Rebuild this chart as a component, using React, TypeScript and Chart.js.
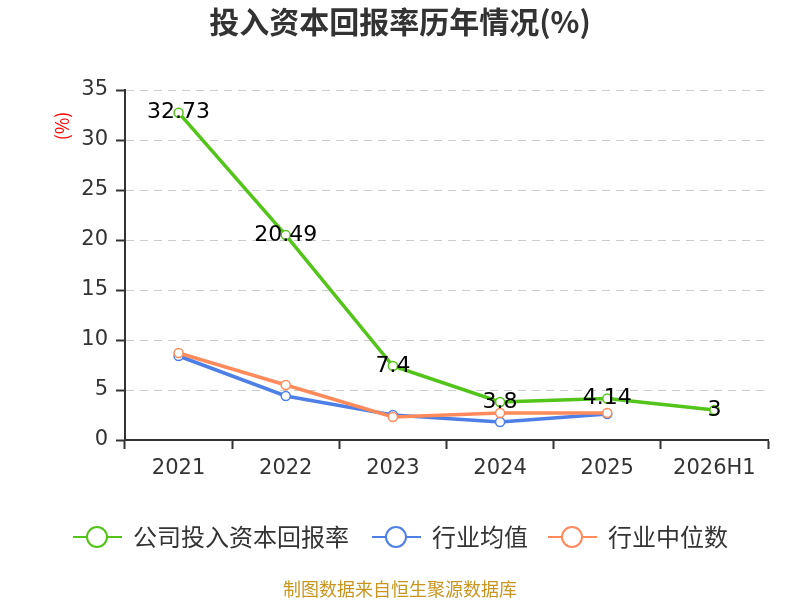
import { useEffect, useRef } from "react";
import { Chart, registerables } from "chart.js";

Chart.register(...registerables);

const years = ["2021", "2022", "2023", "2024", "2025", "2026H1"];
const companyRoic = [32.73, 20.49, 7.4, 3.8, 4.14, 3];
const industryMean = [8.4, 4.4, 2.5, 1.8, 2.6, null];
const industryMedian = [8.7, 5.5, 2.3, 2.7, 2.7, null];
const yTicks = [0, 5, 10, 15, 20, 25, 30, 35];

const FONT = "'Noto Sans CJK SC', 'Noto Sans', sans-serif";
const NUM_FONT = "'DejaVu Sans', 'Noto Sans CJK SC', sans-serif";
const GREEN = "#52C41A";
const BLUE = "#4E7FE6";
const ORANGE = "#FF8A5B";

const legendItems = [
  { label: "公司投入资本回报率", color: GREEN, x: 73 },
  { label: "行业均值", color: BLUE, x: 372 },
  { label: "行业中位数", color: ORANGE, x: 548 },
];

const extras = {
  id: "extras",
  afterDatasetsDraw(chart: Chart) {
    const ctx = chart.ctx;
    const meta = chart.getDatasetMeta(0);
    ctx.save();
    ctx.fillStyle = "#000";
    ctx.font = `22px ${NUM_FONT}`;
    ctx.textAlign = "center";
    ctx.textBaseline = "middle";
    meta.data.forEach((pt, i) => {
      ctx.fillText(String(companyRoic[i]), pt.x, pt.y);
    });
    ctx.restore();
  },
  afterDraw(chart: Chart) {
    const ctx = chart.ctx;
    ctx.save();
    // title
    ctx.fillStyle = "#333";
    ctx.font = `bold 30px ${FONT}`;
    ctx.textAlign = "center";
    ctx.textBaseline = "middle";
    ctx.fillText("投入资本回报率历年情况(%)", 400, 22);

    // axis unit
    ctx.save();
    ctx.translate(62, 126);
    ctx.rotate(-Math.PI / 2);
    ctx.fillStyle = "#FF0000";
    ctx.font = `18px ${FONT}`;
    ctx.fillText("(%)", 0, 0);
    ctx.restore();

    // legend
    legendItems.forEach((it) => {
      const y = 537;
      ctx.strokeStyle = it.color;
      ctx.lineWidth = 2;
      ctx.beginPath();
      ctx.moveTo(it.x, y);
      ctx.lineTo(it.x + 49, y);
      ctx.stroke();
      ctx.beginPath();
      ctx.arc(it.x + 24, y, 10, 0, Math.PI * 2);
      ctx.fillStyle = "#fff";
      ctx.fill();
      ctx.stroke();
      ctx.fillStyle = "#333";
      ctx.font = `24px ${FONT}`;
      ctx.textAlign = "left";
      ctx.fillText(it.label, it.x + 60, y);
    });

    // source
    ctx.fillStyle = "#C8961E";
    ctx.font = `18px ${FONT}`;
    ctx.textAlign = "center";
    ctx.fillText("制图数据来自恒生聚源数据库", 400, 589);
    ctx.restore();
  },
};

function lineSet(label: string, data: (number | null)[], color: string, order: number) {
  return {
    label,
    data,
    borderColor: color,
    backgroundColor: "#fff",
    borderWidth: 3.5,
    pointRadius: 4.5,
    pointBorderWidth: 1.5,
    pointBackgroundColor: "#fff",
    pointBorderColor: color,
    tension: 0,
    order,
  };
}

export default function App() {
  const canvasRef = useRef<HTMLCanvasElement>(null);

  useEffect(() => {
    const ctx = canvasRef.current?.getContext("2d");
    if (!ctx) return;

    const chart = new Chart(ctx, {
      type: "line",
      data: {
        labels: years,
        datasets: [
          lineSet("公司投入资本回报率", companyRoic, GREEN, 0),
          lineSet("行业均值", industryMean, BLUE, 2),
          lineSet("行业中位数", industryMedian, ORANGE, 1),
        ],
      },
      options: {
        responsive: false,
        animation: false,
        devicePixelRatio: 1,
        layout: { padding: { top: 90, right: 32, left: 0, bottom: 0 } },
        plugins: {
          legend: { display: false },
          title: { display: false },
          tooltip: { enabled: false },
        },
        scales: {
          x: {
            offset: true,
            grid: {
              offset: true,
              drawOnChartArea: false,
              drawTicks: true,
              tickLength: 9,
              tickColor: "#333",
              tickWidth: 2,
            },
            border: { display: true, color: "#333", width: 2 },
            ticks: {
              color: "#333",
              font: { family: NUM_FONT, size: 21 },
              padding: 7,
              maxRotation: 0,
            },
            afterFit(scale) {
              scale.height = 160;
            },
          },
          y: {
            min: 0,
            max: 35,
            afterBuildTicks(scale) {
              scale.ticks = yTicks.map((v) => ({ value: v }));
            },
            grid: {
              color: "#CCCCCC",
              lineWidth: 1,
              drawTicks: true,
              tickLength: 9,
              tickColor: "#333",
              tickWidth: 2,
              tickBorderDash: [],
            },
            border: { display: true, color: "#333", width: 2, dash: [8, 6] },
            ticks: {
              color: "#333",
              font: { family: NUM_FONT, size: 21 },
              padding: 8,
            },
            afterFit(scale) {
              scale.width = 125;
            },
          },
        },
      },
      plugins: [extras],
    });

    return () => {
      chart.destroy();
    };
  }, []);

  return (
    <div style={{ position: "absolute", left: 0, top: 0, width: 800, height: 600, background: "#fff" }}>
      <canvas ref={canvasRef} width={800} height={600} />
    </div>
  );
}
